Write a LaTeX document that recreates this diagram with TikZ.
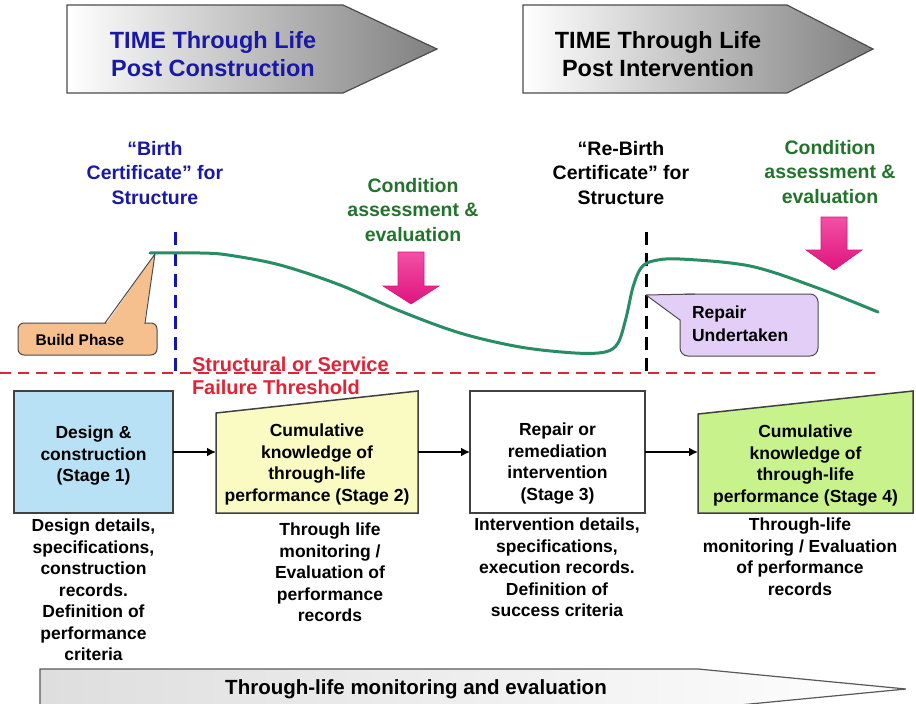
\documentclass[tikz,border=0pt]{standalone}
\usepackage{fontspec}
\setmainfont{Liberation Sans}
\usetikzlibrary{arrows.meta,calc}
\definecolor{blueT}{RGB}{25,25,165}
\definecolor{greenT}{RGB}{35,115,45}
\definecolor{redT}{RGB}{225,35,55}
\definecolor{curveC}{RGB}{40,140,100}
\definecolor{s1fill}{RGB}{185,225,245}
\definecolor{s2fill}{RGB}{250,250,195}
\definecolor{s4fill}{RGB}{200,242,140}
\definecolor{buildfill}{RGB}{246,192,142}
\definecolor{repfill}{RGB}{226,206,246}
\definecolor{pinkL}{RGB}{242,80,165}
\definecolor{pinkD}{RGB}{222,20,125}
\begin{document}
\begin{tikzpicture}[x=1pt,y=-1pt,
  every node/.style={inner sep=0pt,outer sep=0pt},
  toparrow/.style={draw=black!70,line width=1.2pt,left color=white,middle color=white!97!black,right color=black!50},
  toptext/.style={align=center,anchor=north,font=\fontsize{23.5}{28}\selectfont\bfseries},
  lbl/.style={align=center,anchor=north,font=\fontsize{19.5}{24.5}\selectfont\bfseries},
  boxtext/.style={align=center,anchor=north,font=\fontsize{17.5}{21.5}\selectfont\bfseries},
  stagebox/.style={draw=black!75,line width=1.5pt,minimum height=122pt},
  ghost/.style={minimum height=122pt},
  shapeline/.style={draw=black!75,line width=1.5pt},
  conn/.style={line width=2.2pt,-{Latex[length=9pt,width=9pt]}},
  pinkarrow/.style={top color=pinkL,bottom color=pinkD,draw=pinkD,line width=0.6pt},
  calloutline/.style={draw=black!70,line width=1pt},
  vdash/.style={line width=3pt,dash pattern=on 13pt off 8pt},
]
\clip (0,0) rectangle (916,704);
\fill[white] (0,0) rectangle (916,704);

% top arrows
\path[toparrow] (67,5) -- (343,5) -- (437,49) -- (343,93) -- (67,93) -- cycle;
\node[toptext,text=blueT] (t1) at (213,31) {TIME Through Life\\Post Construction};
\path[toparrow] (523,5) -- (787,5) -- (873,49) -- (787,93) -- (523,93) -- cycle;
\node[toptext] (t2) at (658,31) {TIME Through Life\\Post Intervention};

% labels
\node[lbl,text=blueT] (birth) at (155,141) {``Birth\\Certificate'' for\\Structure};
\node[lbl] (rebirth) at (621,141) {``Re-Birth\\Certificate'' for\\Structure};
\node[lbl,text=greenT] (cond1) at (413,178) {Condition\\assessment \&\\evaluation};
\node[lbl,text=greenT] (cond2) at (830,140) {Condition\\assessment \&\\evaluation};

% pink arrows
\path[pinkarrow] (398,252) -- (424,252) -- (424,286) -- (439,286) -- (411,304) -- (383,286) -- (398,286) -- cycle;
\path[pinkarrow] (821,217) -- (847,217) -- (847,250) -- (862,250) -- (834,270) -- (806,250) -- (821,250) -- cycle;

% threshold
\coordinate (thL) at (0,373);
\coordinate (thR) at (880,373);
\draw[redT,line width=2pt,dash pattern=on 11pt off 7pt] (thL) -- (thR);
\node[anchor=north west,align=left,text=redT,font=\fontsize{20}{23}\selectfont\bfseries] (thr) at (192,357) {Structural or Service\\Failure Threshold};

% vertical dashed lines
\coordinate (b1) at (175,232);
\coordinate (b2) at (175,373);
\coordinate (r1) at (646,232);
\coordinate (r2) at (646,373);
\draw[vdash,blueT!85!blue] (b1) -- (b2);
\draw[vdash,black] (r1) -- (r2);

% performance curve
\draw[curveC,line width=3pt,line cap=round] plot[smooth,tension=0.55] coordinates {
 (150,253) (200,253) (228,255) (280,265) (340,285) (400,311) (460,333) (520,347)
 (575,353) (605,352) (618,343) (626,318) (633,287) (641,268) (653,261) (680,259)
 (750,266) (815,287) (878,312)};

% Build Phase callout
\coordinate (bptip) at (155,254);
\path[calloutline,fill=buildfill,rounded corners=6pt] (18,323) rectangle (157,355);
\fill[buildfill] (106,324.2) -- (bptip) -- (144,324.2) -- cycle;
\draw[calloutline,line join=round] (105,323) -- (bptip) -- (145,323);
\node[font=\fontsize{15.5}{18}\selectfont\bfseries] (bp) at (80,340) {Build Phase};

% Repair callout
\coordinate (rptip) at (646,295);
\path[calloutline,fill=repfill,rounded corners=8pt] (680,294) rectangle (818,356);
\fill[repfill] (rptip) -- (695,295.2) -- (695,310) -- (681.2,320) -- cycle;
\fill[repfill] (681.2,295.2) rectangle (695,320);
\draw[calloutline,line join=round] (695,294) -- (rptip) -- (680,320);
\node[anchor=north west,align=left,font=\fontsize{17.5}{23}\selectfont\bfseries] (rep) at (692,306) {Repair\\Undertaken};

% stage boxes
\node[stagebox,fill=s1fill,minimum width=159pt] (s1) at (93.5,452) {};
\node[ghost,minimum width=202pt] (s2) at (317,452) {};
\path[shapeline,fill=s2fill] (s2.south west) -- (s2.south east) -- (s2.north east) -- ([yshift=-22pt]s2.north west) -- cycle;
\node[stagebox,fill=white,minimum width=175pt] (s3) at (557.5,452) {};
\node[ghost,minimum width=215pt] (s4) at (805.5,452) {};
\path[shapeline,fill=s4fill] (s4.south west) -- (s4.south east) -- (s4.north east) -- ([yshift=-23pt]s4.north west) -- cycle;

\node[boxtext] (s1t) at (93.5,426) {Design \&\\construction\\(Stage 1)};
\node[boxtext] (s2t) at (317,424) {Cumulative\\knowledge of\\through-life\\performance (Stage 2)};
\node[boxtext] (s3t) at (557.5,423) {Repair or\\remediation\\intervention\\(Stage 3)};
\node[boxtext] (s4t) at (805.5,425) {Cumulative\\knowledge of\\through-life\\performance (Stage 4)};

\draw[conn] (s1.east) -- (s2.west);
\draw[conn] (s2.east) -- (s3.west);
\draw[conn] (s3.east) -- (s4.west);

% descriptions
\node[boxtext] (d1) at (93.5,519) {Design details,\\specifications,\\construction\\records.\\Definition of\\performance\\criteria};
\node[boxtext] (d2) at (330,523) {Through life\\monitoring /\\Evaluation of\\performance\\records};
\node[boxtext] (d3) at (557,518) {Intervention details,\\specifications,\\execution records.\\Definition of\\success criteria};
\node[boxtext] (d4) at (800,518) {Through-life\\monitoring / Evaluation\\of performance\\records};

% bottom arrow
\path[draw=black!65,line width=1.2pt,left color=black!13,right color=white] (40,669) -- (698,669) -- (906,689) -- (698,709) -- (40,709) -- cycle;
\node[font=\fontsize{20.5}{24}\selectfont\bfseries] (bt) at (416,689) {Through-life monitoring and evaluation};
\end{tikzpicture}
\end{document}
